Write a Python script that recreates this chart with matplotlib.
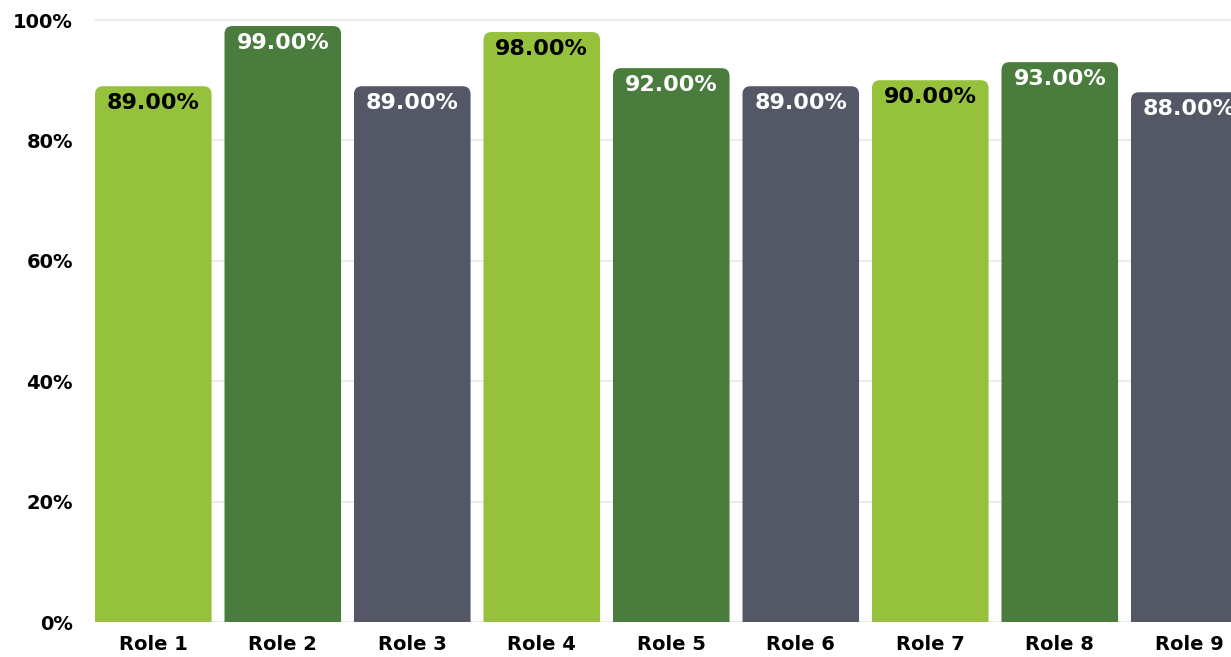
import matplotlib.pyplot as plt
from matplotlib.patches import FancyBboxPatch
import numpy as np

roles = ["Role 1", "Role 2", "Role 3", "Role 4", "Role 5", "Role 6", "Role 7", "Role 8", "Role 9"]
values = [89, 99, 89, 98, 92, 89, 90, 93, 88]
colors = ["#95C13D", "#4A7C3D", "#535766"] * 3
text_colors = ["black", "white", "white"] * 3

fig = plt.figure(figsize=(12.31, 6.57), dpi=100)
ax = fig.add_axes([95 / 1231, 35 / 657, 1 - 95 / 1231, 622 / 657])

x = np.arange(len(roles))
bars = ax.bar(x, values, width=0.9, color=colors, zorder=2)

ax.set_xlim(-0.45, -0.45 + (1231 - 95) / 129.5)
ax.set_ylim(0, 100 * 622 / 602)

# swap plain bars for ones with rounded tops
px_x = 129.5
px_y = 602 / 100
for b, c in zip(bars, colors):
    bx, by = b.get_x(), b.get_y()
    w, h = b.get_width(), b.get_height()
    b.set_visible(False)
    r = FancyBboxPatch((bx, by - 3), w, h + 3,
                       boxstyle="round,pad=0,rounding_size=%f" % (8 / px_x),
                       mutation_aspect=px_x / px_y,
                       facecolor=c, edgecolor="none", zorder=2)
    ax.add_patch(r)

for xi, v, tc in zip(x, values, text_colors):
    ax.annotate("%.2f%%" % v, (xi, v), xytext=(0, -5), textcoords="offset points",
                ha="center", va="top", color=tc, fontsize=16, fontweight="bold", zorder=3)

ax.set_yticks([0, 20, 40, 60, 80, 100])
ax.set_yticklabels(["0%", "20%", "40%", "60%", "80%", "100%"])
ax.set_xticks(x)
ax.set_xticklabels(roles)
ax.tick_params(axis="both", length=0, labelsize=14)
ax.tick_params(axis="y", pad=16)
ax.tick_params(axis="x", pad=9)
for lab in ax.get_xticklabels() + ax.get_yticklabels():
    lab.set_fontweight("bold")

ax.grid(axis="y", color="#E8E8E8", linewidth=1.2, zorder=0)
for s in ax.spines.values():
    s.set_visible(False)

fig.savefig("out.png", dpi=100)
